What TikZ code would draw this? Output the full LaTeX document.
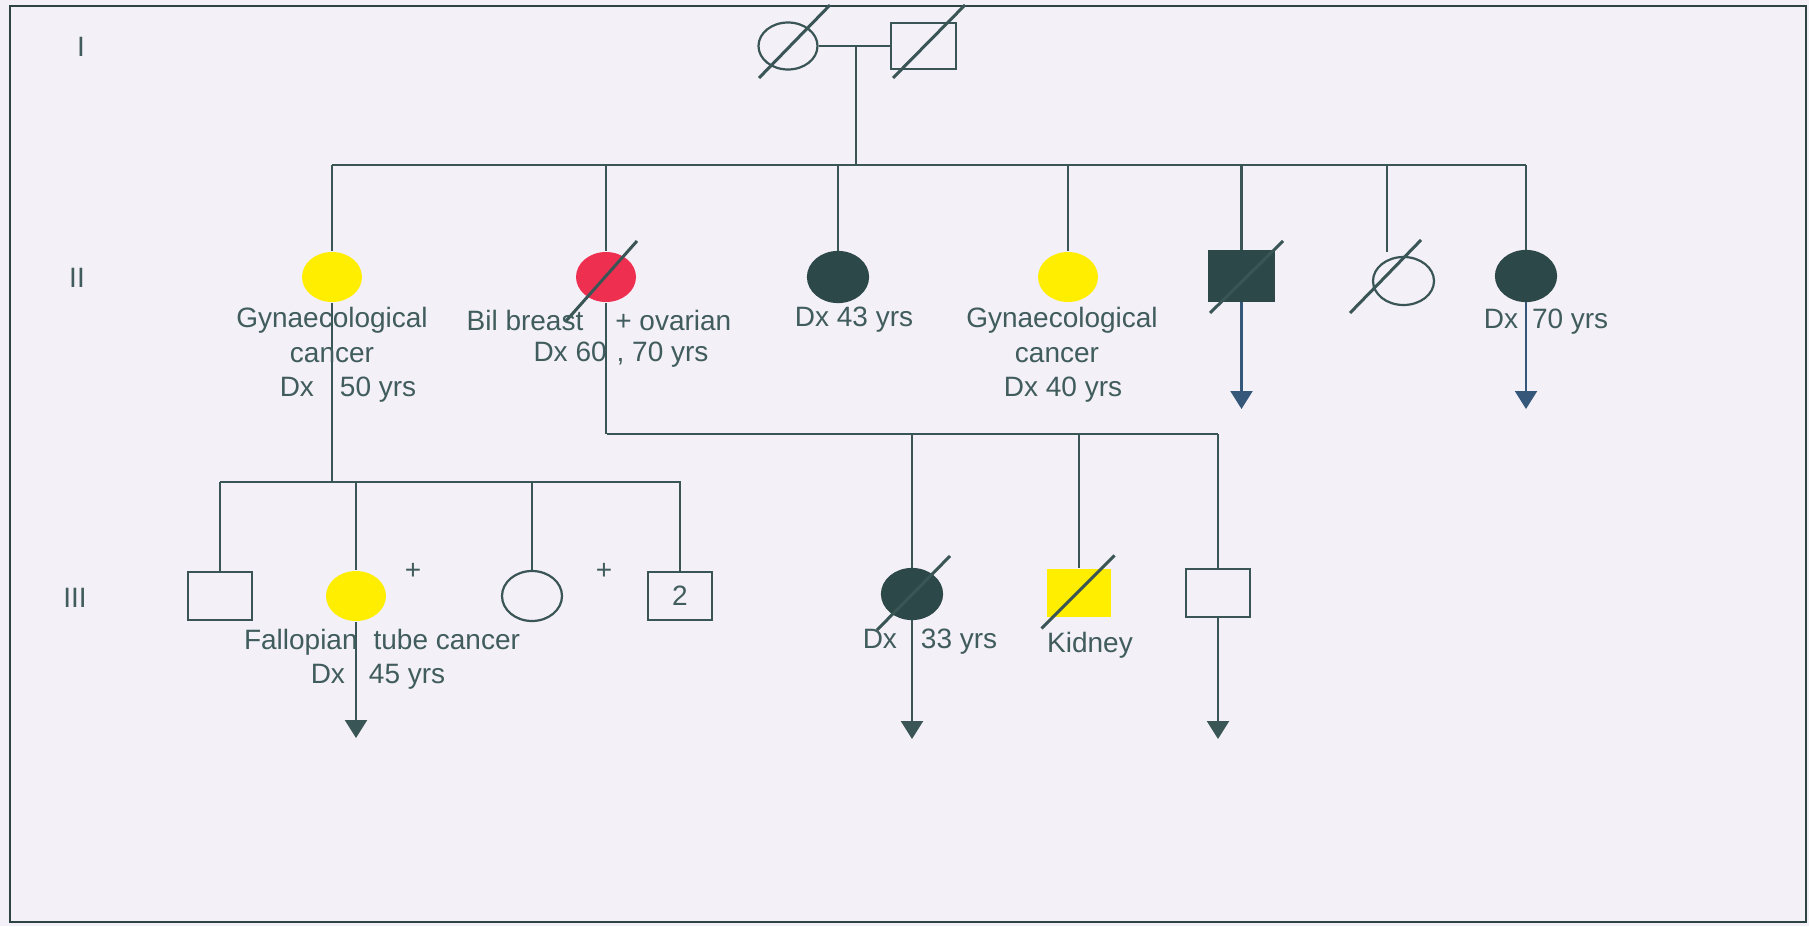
\documentclass[tikz,border=0pt]{standalone}
\usepackage{fontspec}
\setmainfont{Liberation Sans}
\usetikzlibrary{shapes.geometric,arrows.meta,calc}
\definecolor{ink}{HTML}{3A5555}
\definecolor{txt}{HTML}{405C5C}
\definecolor{dark}{HTML}{2D4848}
\definecolor{arrowblue}{HTML}{35577A}
\definecolor{canc}{HTML}{FFEE00}
\definecolor{breast}{HTML}{EF2F4F}
\definecolor{paper}{HTML}{F3F0F8}
\begin{document}
\begin{tikzpicture}[x=0.5pt,y=-0.5pt,
  line/.style={draw=ink,line width=1.15pt},
  frame/.style={draw=ink!80!black,line width=1.4pt},
  slash/.style={draw=ink,line width=1.5pt},
  fem/.style={ellipse,draw=ink,line width=1.1pt,minimum width=30pt,minimum height=25pt,inner sep=0pt},
  male/.style={rectangle,draw=ink,line width=1.1pt,minimum width=32pt,minimum height=24pt,inner sep=0pt,
    text=txt,font=\fontsize{14}{17}\selectfont},
  filled/.style={draw=none,fill=#1},
  affected/.style={draw=dark,fill=dark},
  lbl/.style={text=txt,font=\fontsize{14}{17}\selectfont,inner sep=0pt},
  more/.style={draw=ink,line width=1.15pt,-{Triangle[width=11pt,length=9pt]}},
  moreblue/.style={draw=arrowblue,line width=1.15pt,-{Triangle[width=11pt,length=9pt]}},
]
% page and frame
\fill[paper] (0,0) rectangle (1809,926);
\useasboundingbox (0,0) rectangle (1809,926);
\draw[frame] (10,6) rectangle (1806,922);

% generation numbers
\node[lbl] (genI) at (81,47) {I};
\node[lbl] (genII) at (77,278) {II};
\node[lbl] (genIII) at (75,598) {III};

% ---- junction points of the sibship lines
\coordinate (sIIa) at (332,165);
\coordinate (sIIb) at (1526,165);
\coordinate (sLa) at (220,482);
\coordinate (sLb) at (681,482);
\coordinate (sRa) at (607,434);
\coordinate (sRb) at (1218,434);
\coordinate (c26top) at (1387,252);

% ---- generation I
\node[fem, minimum width=29.5pt, minimum height=23.5pt] (p11) at (788,46) {};
\node[male, minimum width=32.5pt, minimum height=23pt] (p12) at (923.5,46) {};
\coordinate (mI) at (856,46);

% ---- generation II
\node[fem, filled=canc] (p21) at (332,277) {};
\node[fem, filled=breast] (p22) at (606,277) {};
\node[fem, affected] (p23) at (838,277) {};
\node[fem, filled=canc] (p24) at (1068,277) {};
\node[male, affected, minimum height=25pt] (p25) at (1241.5,276) {};
\node[fem, minimum width=30.5pt, minimum height=24pt] (p26) at (1403.5,281) {};
\node[fem, affected] (p27) at (1526,276) {};

% ---- generation III
\node[male] (p31) at (220,596) {};
\node[fem, filled=canc] (p32) at (356,596) {};
\node[fem] (p33) at (532,596) {};
\node[male] (p34) at (680,596) {2};
\node[fem, affected] (p35) at (912,594) {};
\node[male, filled=canc] (p36) at (1079,593) {};
\node[male] (p37) at (1218,593) {};

% ---- lines of descent
\draw[line] (p11.east) -- (p12.west);
\draw[line] (mI) -- (mI |- sIIa);
\draw[line] (sIIa) -- (sIIb);
\foreach \p in {p21,p22,p23,p24,p25,p27}
  \draw[line] (\p |- sIIa) -- (\p.north);
\draw[line] (c26top |- sIIa) -- (c26top);

\draw[line] (p21.south) -- (p21 |- sLa);
\draw[line] (sLa) -- (sLb);
\foreach \p in {p31,p32,p33,p34}
  \draw[line] (\p |- sLa) -- (\p.north);

\draw[line] (p22.south) -- (p22 |- sRa);
\draw[line] (sRa) -- (sRb);
\foreach \p in {p35,p36,p37}
  \draw[line] (\p |- sRa) -- (\p.north);

% offspring not shown
\coordinate (e25) at (1241.5,409);
\coordinate (e27) at (1526,409);
\coordinate (e32) at (356,738);
\coordinate (e35) at (912,739);
\coordinate (e37) at (1218,739);
\draw[moreblue] (p25.south) -- (e25);
\draw[moreblue] (p27.south) -- (e27);
\draw[more] (p32.south) -- (e32);
\draw[more] (p35.south) -- (e35);
\draw[more] (p37.south) -- (e37);

% ---- deceased marks
\draw[slash] ($(p11)+(-29,32)$) -- ($(p11)+(42,-41)$);
\draw[slash] ($(p12)+(-30.5,32)$) -- ($(p12)+(41.5,-41)$);
\draw[slash] ($(p22)+(-40,44)$) -- ($(p22)+(31,-36)$);
\draw[slash] ($(p25)+(-31.5,37)$) -- ($(p25)+(41.5,-35)$);
\draw[slash] ($(p26)+(-53.5,32)$) -- ($(p26)+(17.5,-41)$);
\draw[slash] ($(p35)+(-35,36)$) -- ($(p35)+(38,-38)$);
\draw[slash] ($(p36)+(-37.5,35.5)$) -- ($(p36)+(35.5,-37.5)$);

% ---- labels
\node[lbl] (t21a) at (332,320) {Gynaecological};
\node[lbl] (t21b) at (332,355) {cancer};
\node[lbl] (t21c) at (348,390) {Dx\hspace{13pt}50 yrs};
\node[lbl] (t22a) at (599,320) {Bil breast\hspace{16pt}+ ovarian};
\node[lbl] (t22b) at (621,355) {Dx 60\hspace{5pt}, 70 yrs};
\node[lbl] (t23) at (854,320) {Dx 43 yrs};
\node[lbl] (t24a) at (1062,320) {Gynaecological};
\node[lbl] (t24b) at (1057,355) {cancer};
\node[lbl] (t24c) at (1063,390) {Dx 40 yrs};
\node[lbl] (t27) at (1546,322) {Dx\hspace{7pt}70 yrs};
\node[lbl] (plus1) at (413,571) {+};
\node[lbl] (plus2) at (604,571) {+};
\node[lbl] (t32a) at (382,642) {Fallopian\hspace{8pt}tube cancer};
\node[lbl] (t32b) at (378,677) {Dx\hspace{12pt}45 yrs};
\node[lbl] (t35) at (930,642) {Dx\hspace{12pt}33 yrs};
\node[lbl] (t36) at (1090,645) {Kidney};
\end{tikzpicture}
\end{document}
